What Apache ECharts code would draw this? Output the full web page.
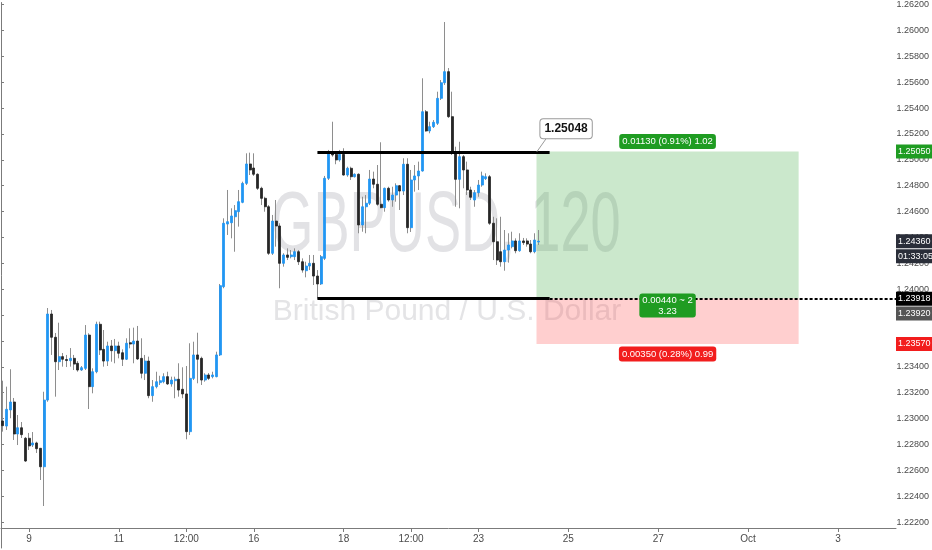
<!DOCTYPE html>
<html><head><meta charset="utf-8">
<script src="https://cdn.jsdelivr.net/npm/echarts@6/dist/echarts.min.js"></script>
<style>html,body{margin:0;padding:0;background:#fff}#c{width:932px;height:550px}</style>
</head><body><div id="c"></div>
<script>
// ---- candle data (GBPUSD, 120 min) ----
const opens = [1.22977,1.22938,1.23062,1.23123,1.22877,1.22925,1.22844,1.22844,1.22792,1.22808,
1.22767,1.22625,1.23138,1.23800,1.23621,1.23433,1.23472,1.23450,1.23441,1.23459,
1.23421,1.23369,1.23382,1.23638,1.23241,1.23356,1.23721,1.23528,1.23438,1.23554,
1.23518,1.23554,1.23502,1.23452,1.23579,1.23569,1.23592,1.23459,1.23344,1.23438,
1.23172,1.23241,1.23272,1.23279,1.23318,1.23262,1.23287,1.23298,1.23221,1.23185,
1.22895,1.23305,1.23485,1.23459,1.23292,1.23331,1.23318,1.23318,1.23485,1.24010,
1.24492,1.24502,1.24548,1.24587,1.24659,1.24805,1.24954,1.24923,1.24875,1.24767,
1.24690,1.24625,1.24267,1.24515,1.24477,1.24190,1.24254,1.24241,1.24241,1.24279,
1.24202,1.24133,1.24169,1.24190,1.24092,1.24031,1.24228,1.24844,1.25041,1.25028,
1.24985,1.25028,1.24869,1.24921,1.24856,1.24875,1.24485,1.24625,1.24652,1.24838,
1.24798,1.24644,1.24618,1.24767,1.24677,1.24715,1.24787,1.24746,1.24952,1.24464,
1.24831,1.24862,1.24900,1.25356,1.25208,1.25241,1.25267,1.25459,1.25579,1.25664,
1.25318,1.25036,1.24836,1.25010,1.24908,1.24754,1.24677,1.24733,1.24792,1.24841,
1.24856,1.24498,1.24356,1.24279,1.24202,1.24292,1.24318,1.24362,1.24287,1.24362,
1.24362,1.24338,1.24279,1.24354];
const closes = [1.22941,1.23067,1.23123,1.22877,1.22925,1.22872,1.22669,1.22785,1.22808,1.22764,
1.22625,1.23138,1.23800,1.23621,1.23433,1.23472,1.23452,1.23442,1.23459,1.23415,
1.23369,1.23387,1.23638,1.23241,1.23356,1.23721,1.23523,1.23438,1.23554,1.23518,
1.23554,1.23498,1.23452,1.23575,1.23569,1.23592,1.23454,1.23344,1.23438,1.23172,
1.23241,1.23279,1.23287,1.23318,1.23262,1.23292,1.23298,1.23215,1.23185,1.22895,
1.23305,1.23485,1.23452,1.23292,1.23331,1.23305,1.23331,1.23485,1.24018,1.24498,
1.24510,1.24554,1.24595,1.24664,1.24805,1.24954,1.24908,1.24875,1.24767,1.24690,
1.24625,1.24267,1.24515,1.24477,1.24190,1.24254,1.24236,1.24254,1.24279,1.24202,
1.24138,1.24169,1.24190,1.24092,1.24031,1.24241,1.24844,1.25036,1.25023,1.24985,
1.25028,1.24869,1.24921,1.24856,1.24875,1.24485,1.24625,1.24652,1.24838,1.24798,
1.24644,1.24618,1.24767,1.24677,1.24715,1.24787,1.24746,1.24952,1.24464,1.24831,
1.24862,1.24900,1.25356,1.25208,1.25241,1.25275,1.25459,1.25579,1.25664,1.25318,
1.25048,1.24836,1.25010,1.24908,1.24754,1.24698,1.24733,1.24792,1.24862,1.24856,
1.24498,1.24356,1.24215,1.24202,1.24292,1.24331,1.24362,1.24287,1.24362,1.24349,
1.24338,1.24279,1.24369,1.24360];
const lows = [1.22895,1.22908,1.22998,1.22831,1.22792,1.22846,1.22662,1.22754,1.22777,1.22731,
1.22523,1.22323,1.23125,1.23485,1.23164,1.23369,1.23395,1.23392,1.23395,1.23369,
1.23356,1.23362,1.23369,1.23069,1.23190,1.23344,1.23485,1.23395,1.23400,1.23433,
1.23421,1.23459,1.23400,1.23446,1.23536,1.23421,1.23446,1.23305,1.23292,1.23152,
1.23125,1.23228,1.23254,1.23267,1.23254,1.23241,1.23152,1.23164,1.23152,1.22836,
1.22869,1.23292,1.23267,1.23254,1.23279,1.23292,1.23305,1.23313,1.23477,1.23998,
1.24408,1.24382,1.24279,1.24472,1.24652,1.24792,1.24869,1.24862,1.24754,1.24638,
1.24587,1.24254,1.24254,1.24318,1.23998,1.24164,1.24215,1.24228,1.24215,1.24177,
1.24118,1.24082,1.24138,1.24023,1.23918,1.24023,1.24215,1.24831,1.25010,1.24952,
1.24972,1.24864,1.24856,1.24831,1.24850,1.24421,1.24433,1.24421,1.24638,1.24767,
1.24633,1.24613,1.24587,1.24664,1.24625,1.24664,1.24600,1.24715,1.24421,1.24431,
1.24741,1.24754,1.24895,1.25202,1.25190,1.25231,1.25254,1.25446,1.25562,1.25308,
1.25023,1.24625,1.24613,1.24767,1.24715,1.24677,1.24625,1.24702,1.24779,1.24831,
1.24485,1.24215,1.24177,1.24164,1.24133,1.24195,1.24305,1.24267,1.24279,1.24331,
1.24318,1.24267,1.24267,1.24331];
const highs = [1.23287,1.23241,1.23375,1.23154,1.23023,1.22969,1.22854,1.22885,1.22892,1.22818,
1.22769,1.23202,1.23846,1.23831,1.23654,1.23733,1.23500,1.23485,1.23538,1.23485,
1.23438,1.23400,1.23715,1.23652,1.23382,1.23741,1.23741,1.23677,1.23587,1.23600,
1.23608,1.23587,1.23528,1.23613,1.23690,1.23695,1.23708,1.23613,1.23485,1.23472,
1.23292,1.23356,1.23325,1.23344,1.23356,1.23318,1.23318,1.23421,1.23390,1.23400,
1.23575,1.23587,1.23656,1.23472,1.23344,1.23346,1.23356,1.23510,1.24031,1.24536,
1.24754,1.24613,1.24638,1.24754,1.24818,1.25036,1.25041,1.25036,1.24882,1.24779,
1.24702,1.24638,1.24562,1.24677,1.24498,1.24267,1.24305,1.24292,1.24305,1.24292,
1.24228,1.24202,1.24254,1.24254,1.24138,1.24254,1.24862,1.25062,1.25279,1.25048,
1.25062,1.25075,1.24933,1.24933,1.24882,1.24882,1.24702,1.24715,1.24908,1.24895,
1.24946,1.25121,1.24772,1.24779,1.24779,1.24805,1.24792,1.24998,1.24998,1.24908,
1.24946,1.24972,1.25613,1.25369,1.25279,1.25292,1.25510,1.25600,1.26046,1.25692,
1.25510,1.25087,1.25125,1.25023,1.24972,1.24779,1.24754,1.24831,1.24895,1.24882,
1.24869,1.24548,1.24536,1.24548,1.24446,1.24421,1.24433,1.24382,1.24421,1.24385,
1.24382,1.24369,1.24421,1.24446];

// ---- time axis (2h slots, incl. future space) ----
const slotCount = 239;
const tickIndex = [7,31,49,67,91,109,127,151,175,199,223];
const tickText  = ['9','11','12:00','16','18','12:00','23','25','27','Oct','3'];

// ---- drawings ----
const rangeHigh = 1.25048, rangeLow = 1.23918;      // horizontal levels
const rangeFrom = 84, rangeTo = 146;                // slot span of levels
const targetPrice = 1.25050, entryPrice = 1.23920, stopPrice = 1.23570;
const posFrom = 142.5, posTo = 212.5;               // long-position tool span
const lastPrice = 1.24360, countdown = '01:33:05';
const targetText = '0.01130 (0.91%) 1.02';
const ratioText = '0.00440 ~ 2\n3.23';
const stopText = '0.00350 (0.28%) 0.99';
const calloutText = '1.25048';
const watermark1 = 'GBPUSD, 120';
const watermark2 = 'British Pound / U.S. Dollar';

const FONT = "'Liberation Sans', Arial, sans-serif";
const slots = Array.from({length: slotCount}, (_, i) => String(i));
const tickMap = {}; tickIndex.forEach((k, j) => tickMap[k] = tickText[j]);
const wickData = opens.map((o, i) => [o, closes[i], lows[i], highs[i]]);
const bodyData = opens.map((o, i) => [o, closes[i], Math.min(o, closes[i]), Math.max(o, closes[i])]);
const slotMax = slotCount - 0.5;
const pxPerUnit = 13000; // vertical price scale of the panel

const tag = (price, text, bg, dy) => ({
  coord: [slotMax, price], name: text,
  label: { backgroundColor: bg, offset: [0, dy || 0] }
});

const chart = echarts.init(document.getElementById('c'), null, {renderer: 'canvas'});
chart.setOption({
  animation: false,
  backgroundColor: '#ffffff',
  graphic: [
    { type: 'text', x: 446, y: 227, scaleX: 0.63, z: 0,
      style: { text: watermark1, font: "86px 'Liberation Sans', sans-serif", fill: '#e2e2e5', align: 'center', verticalAlign: 'middle' } },
    { type: 'text', x: 447, y: 312, scaleX: 1.0, z: 0,
      style: { text: watermark2, font: "30px 'Liberation Sans', sans-serif", fill: '#e4e4e6', align: 'center', verticalAlign: 'middle' } }
  ],
  grid: [
    { left: 1, right: 36, top: 0, bottom: 22 },
    { left: 1, right: 36, top: 0, bottom: 2 }
  ],
  xAxis: [
    { type: 'category', gridIndex: 0, data: slots, boundaryGap: true,
      axisLine: { lineStyle: { color: '#7b7b7b', width: 1 } },
      axisTick: { show: true, alignWithLabel: true, length: 4, interval: (i) => tickMap[i] !== undefined, lineStyle: { color: '#7b7b7b' } },
      axisLabel: { interval: (i) => tickMap[i] !== undefined, formatter: (v, i) => tickMap[i] || '',
        color: '#4a4a4a', fontSize: 10, fontFamily: FONT, margin: 6 },
      splitLine: { show: false } },
    { type: 'value', gridIndex: 0, min: -0.5, max: slotMax, show: false },
    { type: 'value', gridIndex: 1, min: 0, max: 1, show: false }
  ],
  yAxis: [
    { type: 'value', gridIndex: 0, min: 1.262 - 526 / pxPerUnit, max: 1.262 + 2 / pxPerUnit, show: false, scale: true },
    { type: 'value', gridIndex: 1, position: 'right', min: 1.220, max: 1.262 + 2 / pxPerUnit, interval: 0.002,
      axisLine: { show: true, lineStyle: { color: '#7b7b7b', width: 1 } },
      axisTick: { show: true, length: 3, lineStyle: { color: '#7b7b7b' } },
      axisLabel: { showMinLabel: false, showMaxLabel: false, formatter: (v) => v.toFixed(5),
        color: '#4a4a4a', fontSize: 9, fontFamily: FONT, margin: 3 },
      splitLine: { show: false } }
  ],
  series: [
    { name: 'zones', type: 'scatter', xAxisIndex: 1, yAxisIndex: 0, data: [], z: 1, silent: true,
      markArea: { silent: true, itemStyle: { opacity: 1 },
        data: [
          [{ coord: [posFrom, targetPrice], itemStyle: { color: 'rgba(76,175,80,0.29)' } }, { coord: [posTo, entryPrice] }],
          [{ coord: [posFrom, entryPrice], itemStyle: { color: 'rgba(255,82,82,0.28)' } }, { coord: [posTo, stopPrice] }]
        ] } },
    { name: 'wicks', type: 'candlestick', xAxisIndex: 0, yAxisIndex: 0, data: wickData, z: 2,
      barWidth: 1,
      itemStyle: { color: '#8e8e8e', color0: '#8e8e8e', borderColor: '#8e8e8e', borderColor0: '#8e8e8e', borderWidth: 1 } },
    { name: 'GBPUSD', type: 'candlestick', xAxisIndex: 0, yAxisIndex: 0, data: bodyData, z: 3,
      barWidth: 2.5,
      itemStyle: { color: '#2196f3', color0: '#262626', borderColor: '#2196f3', borderColor0: '#262626', borderWidth: 0.8 } },
    { name: 'levels', type: 'scatter', xAxisIndex: 1, yAxisIndex: 0, data: [], z: 5, silent: true,
      markLine: { silent: true, symbol: ['none', 'none'], label: { show: false },
        data: [
          [{ coord: [rangeFrom, rangeHigh], lineStyle: { color: '#000', width: 3, type: 'solid' } }, { coord: [rangeTo, rangeHigh] }],
          [{ coord: [rangeFrom, rangeLow], lineStyle: { color: '#000', width: 3, type: 'solid' } }, { coord: [rangeTo, rangeLow] }],
          [{ coord: [rangeTo, rangeLow], lineStyle: { color: '#000', width: 2, type: [3, 2] } }, { coord: [slotMax, rangeLow] }],
          [{ coord: [posFrom + 0.1, rangeHigh], lineStyle: { color: '#9a9a9a', width: 1, type: 'solid' } }, { coord: [posFrom + 2.5, rangeHigh + 0.00098] }]
        ] },
      markPoint: { silent: true, symbol: 'rect', symbolSize: 0,
        label: { show: true, position: 'right', distance: 0, formatter: '{b}', color: '#fff', fontSize: 9,
          fontFamily: FONT, padding: [3, 2, 2, 2] },
        data: [
          tag(targetPrice, '1.25050', '#1f9c22'),
          tag(lastPrice, '1.24360', '#2a2e39'),
          tag(lastPrice, countdown, '#2a2e39', 15),
          tag(rangeLow, '1.23918', '#000000'),
          tag(entryPrice, '1.23920', '#555555', 15),
          tag(stopPrice, '1.23570', '#f21d1d'),
          { coord: [(posFrom + posTo) / 2, targetPrice], name: targetText,
            label: { position: 'inside', offset: [0, -10], backgroundColor: '#1f9c22', borderRadius: 3, fontSize: 9.5, padding: [3, 3, 2, 3] } },
          { coord: [(posFrom + posTo) / 2, entryPrice], name: ratioText,
            label: { position: 'inside', offset: [0, 7], backgroundColor: '#1f9c22', borderRadius: 3, fontSize: 9.5, lineHeight: 11, padding: [1, 3, 1, 3], align: 'center' } },
          { coord: [(posFrom + posTo) / 2, stopPrice], name: stopText,
            label: { position: 'inside', offset: [0, 10], backgroundColor: '#f21d1d', borderRadius: 3, fontSize: 9.5, padding: [3, 3, 2, 3] } },
          { coord: [150.4, rangeHigh], name: calloutText,
            label: { position: 'inside', offset: [0, -23], backgroundColor: '#ffffff', borderColor: '#9a9a9a', borderWidth: 1,
              borderRadius: 3, color: '#131313', fontSize: 12, fontWeight: 'bold', padding: [4, 4, 3, 4] } }
        ] } }
  ]
});
</script></body></html>
